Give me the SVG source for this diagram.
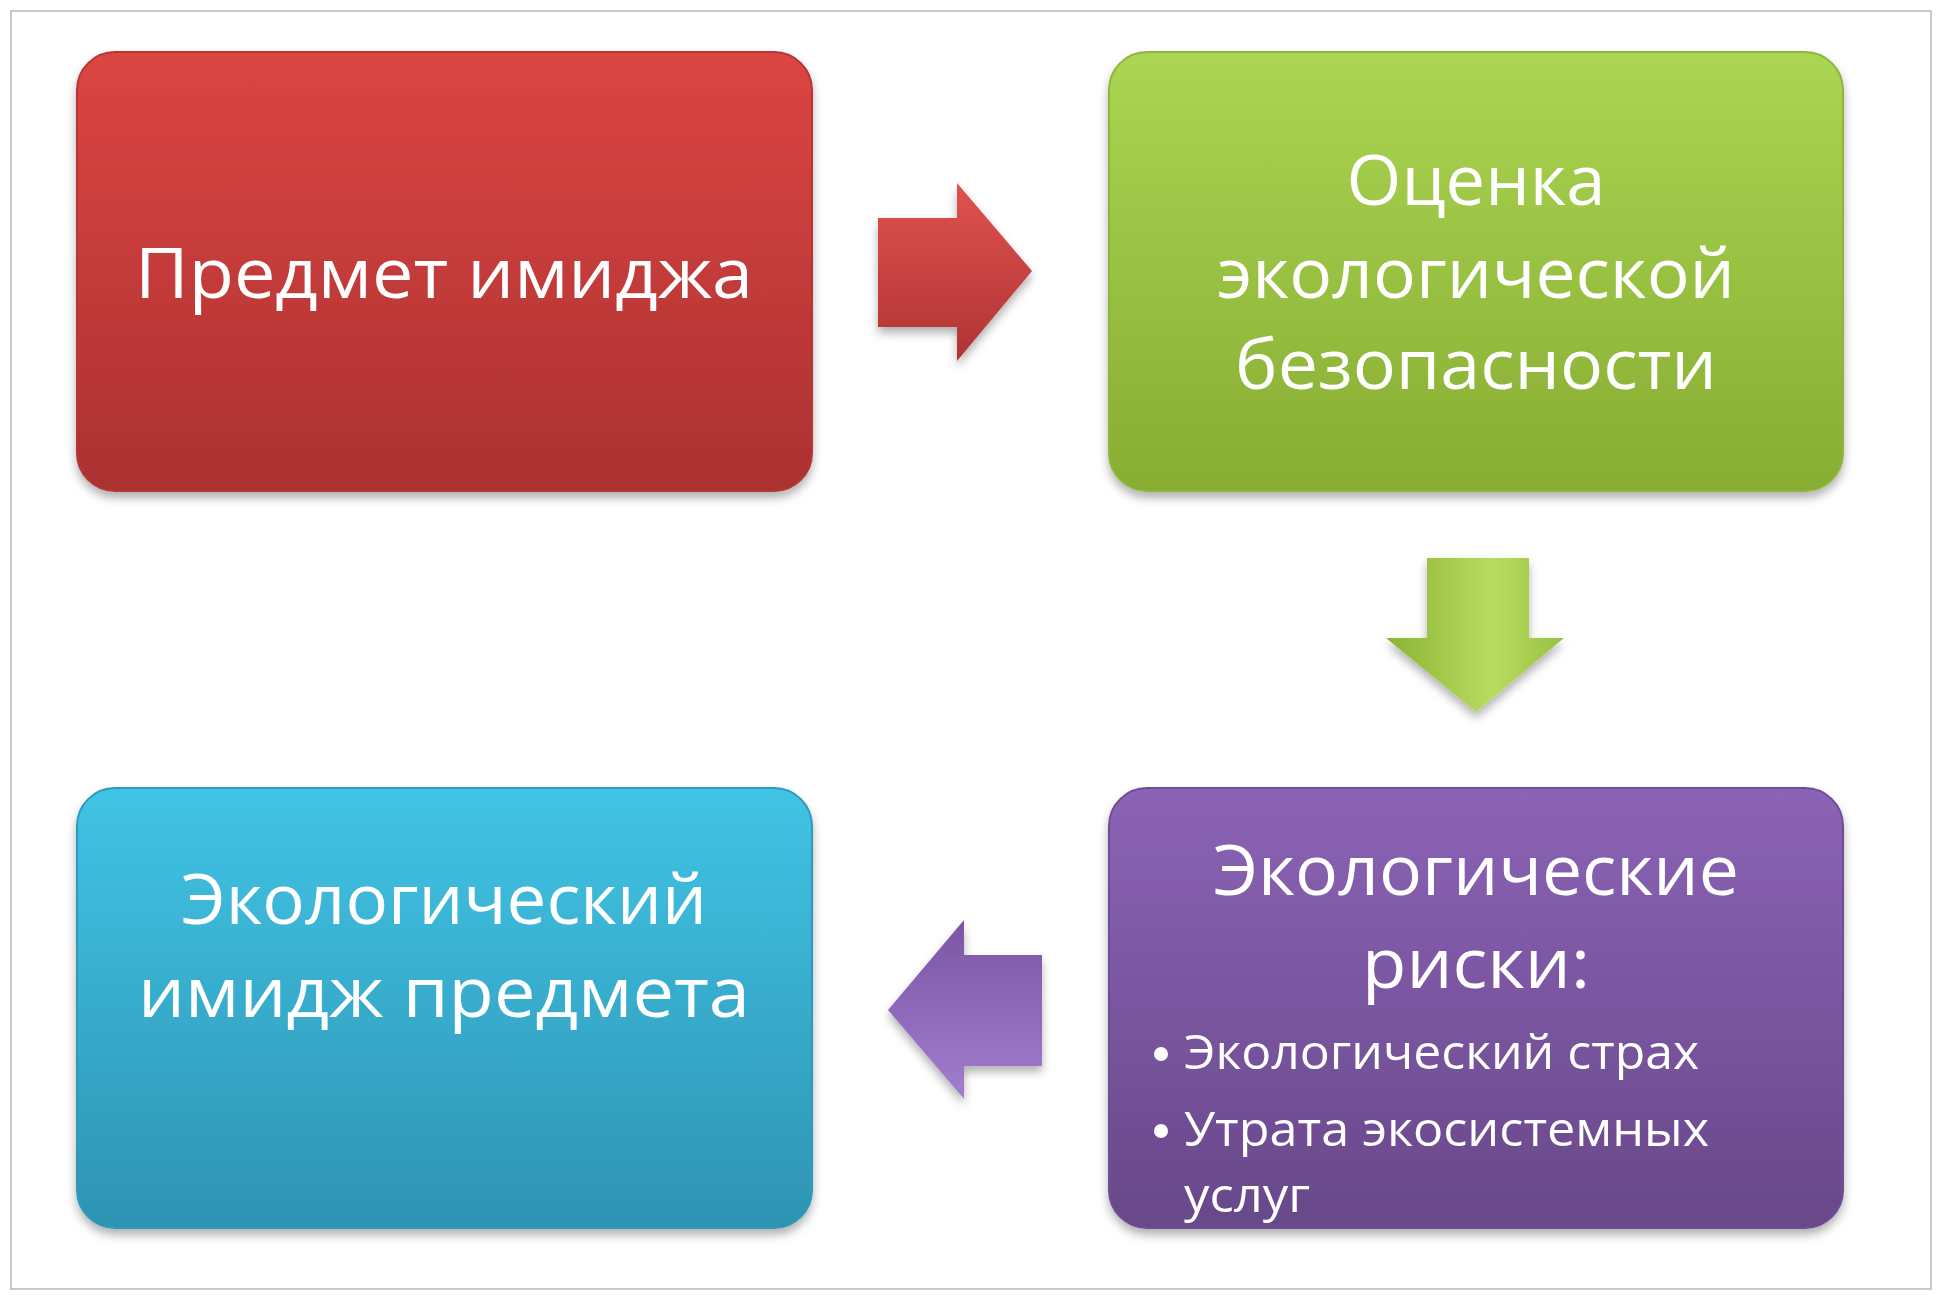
<svg xmlns="http://www.w3.org/2000/svg" width="1942" height="1295" viewBox="0 0 1942 1295">
<defs>
<linearGradient id="gr" x1="0" y1="0" x2="0" y2="1"><stop offset="0" stop-color="#dc4543"/><stop offset="1" stop-color="#ab3131"/></linearGradient>
<linearGradient id="gg" x1="0" y1="0" x2="0" y2="1"><stop offset="0" stop-color="#abd553"/><stop offset="1" stop-color="#87ad32"/></linearGradient>
<linearGradient id="gb" x1="0" y1="0" x2="0" y2="1"><stop offset="0" stop-color="#41c4e5"/><stop offset="1" stop-color="#2e93b3"/></linearGradient>
<linearGradient id="gp" x1="0" y1="0" x2="0" y2="1"><stop offset="0" stop-color="#8b63b6"/><stop offset="1" stop-color="#684889"/></linearGradient>
<linearGradient id="ar" x1="0" y1="0" x2="0" y2="1"><stop offset="0" stop-color="#e05250"/><stop offset="1" stop-color="#b03333"/></linearGradient>
<linearGradient id="ag" x1="0" y1="0" x2="1" y2="0"><stop offset="0" stop-color="#8cb334"/><stop offset="0.6" stop-color="#b8dc60"/><stop offset="1" stop-color="#98c040"/></linearGradient>
<linearGradient id="ap" x1="0" y1="0" x2="0" y2="1"><stop offset="0" stop-color="#7a55a3"/><stop offset="1" stop-color="#a27dd0"/></linearGradient>
<filter id="sh" x="-5%" y="-5%" width="110%" height="115%"><feDropShadow dx="0" dy="6" stdDeviation="5" flood-color="#000" flood-opacity="0.3"/></filter>
</defs>
<style>
.t{font-family:"Open Sans","Noto Sans","Liberation Sans",sans-serif;fill:#fff;text-anchor:middle;font-size:70px}
.b{font-family:"Open Sans","Noto Sans","Liberation Sans",sans-serif;fill:#fff;font-size:48px}
.box{filter:url(#sh);stroke-width:2}
</style>
<rect x="11" y="11" width="1920" height="1278" fill="#fff" stroke="#b8b8b8" stroke-width="1.5"/>
<g id="connectors">
<path d="M878,218 H957 V183 L1032,271 L957,361 V327 H878 Z" fill="url(#ar)" filter="url(#sh)"/>
<path d="M1427,558 H1529 V638 H1564 L1476,712 L1386,638 H1427 Z" fill="url(#ag)" filter="url(#sh)"/>
<path d="M1042,955 H964 V920 L888,1010 L964,1099 V1066 H1042 Z" fill="url(#ap)" filter="url(#sh)"/>
</g>
<g id="n1"><rect class="box" x="77" y="52" width="735" height="439" rx="38" fill="url(#gr)" stroke="#b83636"/>
<text class="t" x="444" y="298" textLength="618" lengthAdjust="spacingAndGlyphs">Предмет имиджа</text></g>
<g id="n2"><rect class="box" x="1109" y="52" width="734" height="439" rx="38" fill="url(#gg)" stroke="#8fb53a"/>
<text class="t" x="1476" y="205" textLength="259" lengthAdjust="spacingAndGlyphs">Оценка</text>
<text class="t" x="1476" y="298" textLength="518" lengthAdjust="spacingAndGlyphs">экологической</text>
<text class="t" x="1476" y="389" textLength="482" lengthAdjust="spacingAndGlyphs">безопасности</text></g>
<g id="n3"><rect class="box" x="1109" y="788" width="734" height="440" rx="38" fill="url(#gp)" stroke="#6e4e92"/>
<text class="t" x="1476" y="895" textLength="526" lengthAdjust="spacingAndGlyphs">Экологические</text>
<text class="t" x="1476" y="988" textLength="228" lengthAdjust="spacingAndGlyphs">риски:</text>
<circle cx="1161" cy="1054" r="7" fill="#fff"/>
<text class="b" x="1184" y="1069" textLength="515" lengthAdjust="spacingAndGlyphs">Экологический страх</text>
<circle cx="1161" cy="1131" r="7" fill="#fff"/>
<text class="b" x="1184" y="1146" textLength="525" lengthAdjust="spacingAndGlyphs">Утрата экосистемных</text>
<text class="b" x="1184" y="1212" textLength="126" lengthAdjust="spacingAndGlyphs">услуг</text></g>
<g id="n4"><rect class="box" x="77" y="788" width="735" height="440" rx="38" fill="url(#gb)" stroke="#2f9abb"/>
<text class="t" x="444" y="924" textLength="526" lengthAdjust="spacingAndGlyphs">Экологический</text>
<text class="t" x="444" y="1017" textLength="612" lengthAdjust="spacingAndGlyphs">имидж предмета</text></g>
</svg>
